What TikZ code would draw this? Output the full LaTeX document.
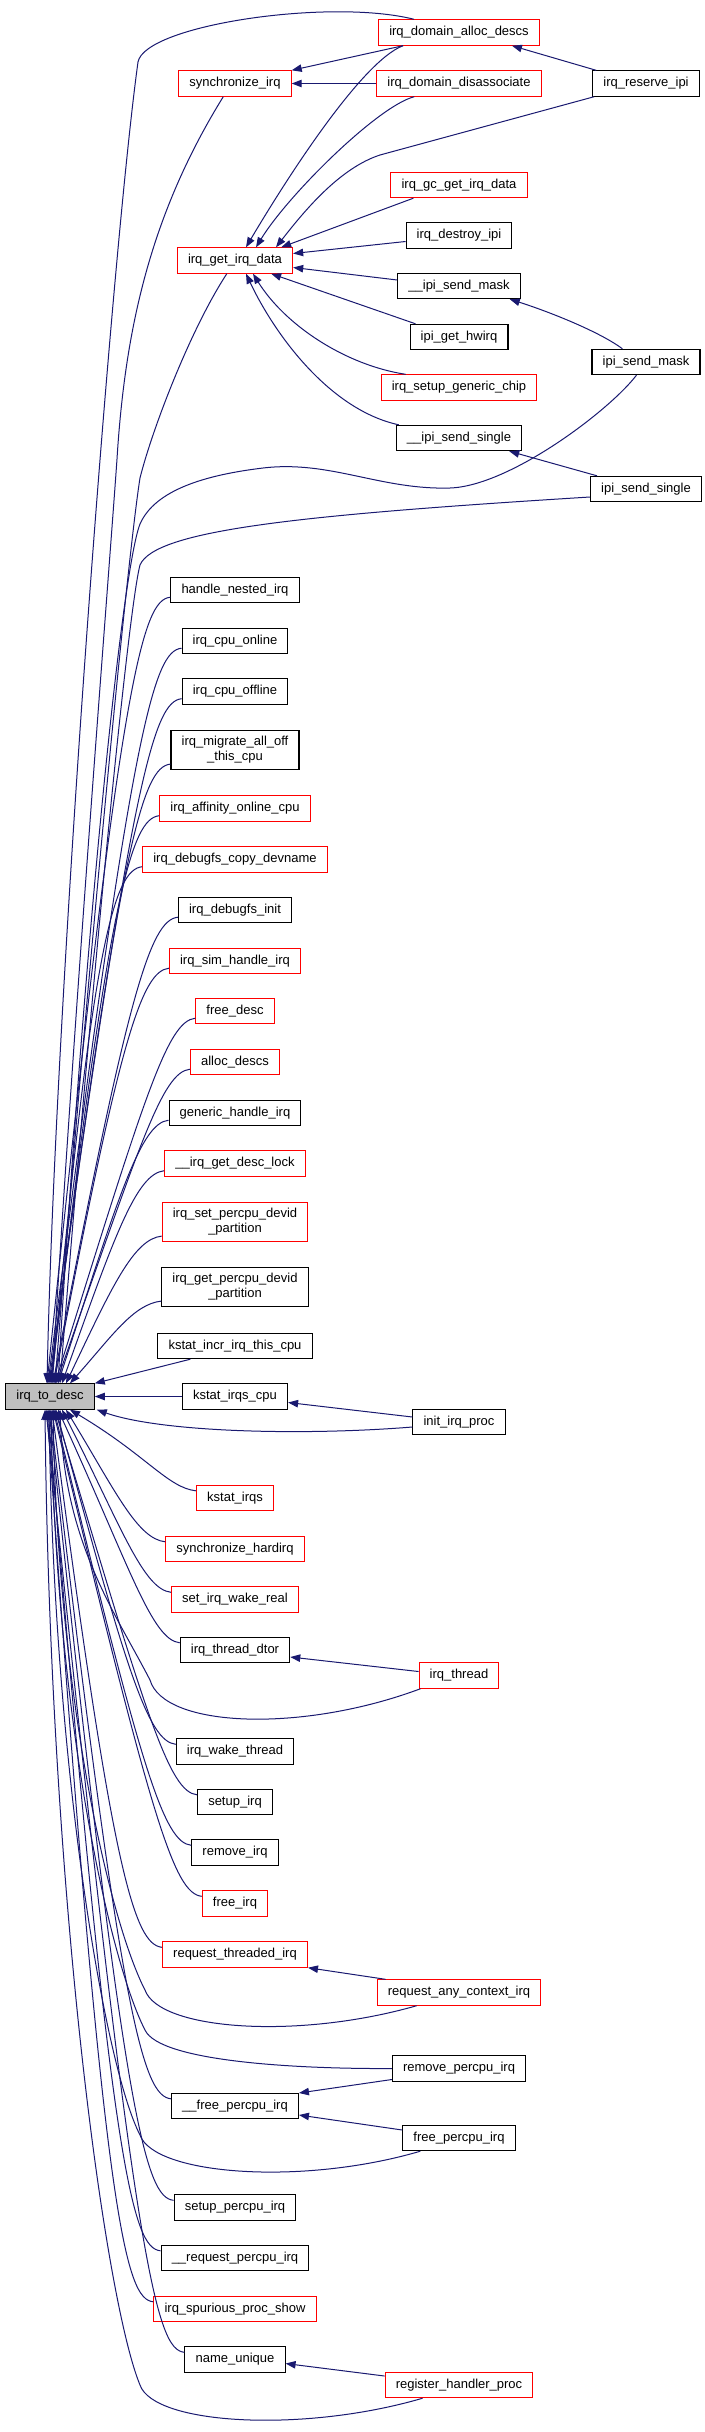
\documentclass[tikz,border=0pt]{standalone}
\usepackage{fontspec}
\setmainfont{Liberation Sans}
\usepackage{xcolor}
\usepackage{tikz}
\usetikzlibrary{arrows.meta, calc}
\definecolor{CallNavy}{RGB}{25, 25, 112}
\definecolor{BoxRed}{RGB}{255, 0, 0}
\definecolor{RootGray}{RGB}{191, 191, 191}

\tikzset{
  fn/.style={draw=black, line width=0.8pt, fill=white, align=center,
    font=\fontsize{9.75}{11.25}\selectfont, inner xsep=8pt, inner ysep=4.5pt,
    minimum height=19pt},
  fnred/.style={fn, draw=BoxRed},
  fnroot/.style={fn, fill=RootGray},
  call/.style={draw=CallNavy, line width=0.75pt, {Triangle[length=7.5pt,width=5.6pt]}-},
}

\begin{document}
\begin{tikzpicture}[x=0.75pt,y=-0.75pt]
  \path[use as bounding box] (0,0) rectangle (704,2432);
  \fill[white] (0,0) rectangle (704,2432);

  \node[fnred] (allocdescs) at (459,32.5) {irq\_domain\_alloc\_descs};
  \node[fnred] (syncirq) at (235,83.5) {synchronize\_irq};
  \node[fnred] (disassoc) at (459,83.5) {irq\_domain\_disassociate};
  \node[fn] (reserveipi) at (646,83.5) {irq\_reserve\_ipi};
  \node[fnred] (gcdata) at (459,185) {irq\_gc\_get\_irq\_data};
  \node[fn] (destroyipi) at (459,235.5) {irq\_destroy\_ipi};
  \node[fnred] (getdata) at (235,260.5) {irq\_get\_irq\_data};
  \node[fn] (sendmaskint) at (459,286) {\_\_ipi\_send\_mask};
  \node[fn] (hwirq) at (459,337) {ipi\_get\_hwirq};
  \node[fn] (sendmask) at (646,362) {ipi\_send\_mask};
  \node[fnred] (genchip) at (459,387.5) {irq\_setup\_generic\_chip};
  \node[fn] (sendsingleint) at (459,438) {\_\_ipi\_send\_single};
  \node[fn] (sendsingle) at (646,489) {ipi\_send\_single};

  \node[fn] (nested) at (235,590) {handle\_nested\_irq};
  \node[fn] (cpuonline) at (235,641) {irq\_cpu\_online};
  \node[fn] (cpuoffline) at (235,691.5) {irq\_cpu\_offline};
  \node[fn] (migrate) at (235,750) {irq\_migrate\_all\_off\\\_this\_cpu};
  \node[fnred] (affinity) at (235,808.5) {irq\_affinity\_online\_cpu};
  \node[fnred] (copydev) at (235,859.5) {irq\_debugfs\_copy\_devname};
  \node[fn] (dbginit) at (235,910) {irq\_debugfs\_init};
  \node[fnred] (simirq) at (235,961) {irq\_sim\_handle\_irq};
  \node[fnred] (freedesc) at (235,1011) {free\_desc};
  \node[fnred] (allocd) at (235,1062) {alloc\_descs};
  \node[fn] (generic) at (235,1113) {generic\_handle\_irq};
  \node[fnred] (desclock) at (235,1163.5) {\_\_irq\_get\_desc\_lock};
  \node[fnred] (setpart) at (235,1222) {irq\_set\_percpu\_devid\\\_partition};
  \node[fn] (getpart) at (235,1287) {irq\_get\_percpu\_devid\\\_partition};
  \node[fn] (kincr) at (235,1346) {kstat\_incr\_irq\_this\_cpu};
  \node[fnroot] (todesc) at (50,1396.5) {irq\_to\_desc};
  \node[fn] (kcpu) at (235,1396.5) {kstat\_irqs\_cpu};
  \node[fn] (initproc) at (459,1422) {init\_irq\_proc};
  \node[fnred] (kirqs) at (235,1498) {kstat\_irqs};
  \node[fnred] (hardirq) at (235,1549) {synchronize\_hardirq};
  \node[fnred] (wakereal) at (235,1599.5) {set\_irq\_wake\_real};
  \node[fn] (dtor) at (235,1650) {irq\_thread\_dtor};
  \node[fnred] (thread) at (459,1675.5) {irq\_thread};
  \node[fn] (wakethread) at (235,1751.5) {irq\_wake\_thread};
  \node[fn] (setupirq) at (235,1802) {setup\_irq};
  \node[fn] (removeirq) at (235,1852.5) {remove\_irq};
  \node[fnred] (freeirq) at (235,1903.5) {free\_irq};
  \node[fnred] (reqthreaded) at (235,1954.5) {request\_threaded\_irq};
  \node[fnred] (reqany) at (459,1992.5) {request\_any\_context\_irq};
  \node[fn] (removepcpu) at (459,2068.5) {remove\_percpu\_irq};
  \node[fn] (freepcpuint) at (235,2106) {\_\_free\_percpu\_irq};
  \node[fn] (freepcpu) at (459,2138) {free\_percpu\_irq};
  \node[fn] (setuppcpu) at (235,2207.5) {setup\_percpu\_irq};
  \node[fn] (reqpcpu) at (235,2258) {\_\_request\_percpu\_irq};
  \node[fnred] (spurious) at (235,2309) {irq\_spurious\_proc\_show};
  \node[fn] (nameuniq) at (235,2359.5) {name\_unique};
  \node[fnred] (reghandler) at (459,2385) {register\_handler\_proc};

  \draw[call] (syncirq.north east) -- ($(allocdescs.south west)+(25,0)$);
  \draw[call] (syncirq.east) -- (disassoc.west);
  \draw[call] ($(allocdescs.south east)+(-28,0)$) -- ($(reserveipi.north west)+(4,0)$);
  \draw[call] ($(getdata.north)+(11,0)$) .. controls (281,188) and (360,62) .. ($(allocdescs.south west)+(25,0)$);
  \draw[call] ($(getdata.north)+(21,0)$) .. controls (288,195) and (378,106) .. ($(disassoc.south west)+(38,0)$);
  \draw[call] ($(getdata.north)+(41,0)$) .. controls (305,210) and (340,168) .. (380,155) -- ($(reserveipi.south west)+(2,0)$);
  \draw[call] ($(getdata.north east)+(-12,0)$) -- ($(gcdata.south west)+(23,0)$);
  \draw[call] ($(getdata.east)+(0,-7)$) -- ($(destroyipi.west)+(0,6)$);
  \draw[call] ($(getdata.east)+(0,7)$) -- ($(sendmaskint.west)+(0,-6)$);
  \draw[call] ($(getdata.south east)+(-22,0)$) -- ($(hwirq.north west)+(6,0)$);
  \draw[call] ($(getdata.south)+(18,0)$) .. controls (285,325) and (345,365) .. ($(genchip.north west)+(25,0)$);
  \draw[call] ($(getdata.south)+(11,0)$) .. controls (275,335) and (330,410) .. ($(sendsingleint.north west)+(3,0)$);
  \draw[call] ($(sendmaskint.south east)+(-11,0)$) .. controls (550,312) and (600,332) .. ($(sendmask.north west)+(31,0)$);
  \draw[call] ($(sendsingleint.south east)+(-13,0)$) -- ($(sendsingle.north west)+(7,0)$);

  \draw[call] ($(todesc.north)+(-3,0)$) .. controls (55,1000) and (112,250) .. (138,62)
    .. controls (145,25) and (330,-2) .. ($(allocdescs.north west)+(36,0)$);
  \draw[call] ($(todesc.north)+(2,0)$) .. controls (75,1000) and (110,560) .. (117,459)
    .. controls (125,330) and (150,215) .. ($(syncirq.south west)+(45,0)$);
  \draw[call] ($(todesc.north)+(5,0)$) .. controls (85,1000) and (127,560) .. (140,478)
    .. controls (152,430) and (190,330) .. ($(getdata.south west)+(50,0)$);
  \draw[call] ($(todesc.north)+(8,0)$) .. controls (80,1000) and (120,575) .. (140,524)
    .. controls (155,490) and (205,475) .. (263,468)
    .. controls (330,460) and (380,490) .. (450,488)
    .. controls (510,486) and (610,410) .. ($(sendmask.south west)+(45,0)$);
  \draw[call] ($(todesc.north)+(10,0)$) .. controls (90,1000) and (128,610) .. (140,565)
    .. controls (155,530) and (300,515) .. ($(sendsingle.west)+(0,8)$);

  \foreach \n/\dx/\up in {nested/-3/70, cpuonline/-2/70, cpuoffline/-1/70, migrate/0/70,
      affinity/1/70, copydev/2/70, dbginit/3/70, simirq/4/70, freedesc/5/70, allocd/6/70,
      generic/8/70, desclock/12/60, setpart/16/45, getpart/20/30}
    \draw[call] ($(todesc.north)+(\dx,0)$) .. controls ($(\n.south west)+(-50,\up)$)
      and ($(\n.south west)+(-28,-3)$) .. ($(\n.south west)+(0,-6)$);
  \draw[call] (todesc.north east) -- ($(kincr.south west)+(33,0)$);

  \draw[call] (todesc.east) -- (kcpu.west);
  \draw[call] ($(kcpu.east)+(0,6)$) -- ($(initproc.west)+(0,-5)$);
  \draw[call] ($(todesc.south east)+(2,0)$) .. controls (160,1432) and (300,1436) .. ($(initproc.west)+(0,5)$);

  \foreach \n/\dx/\up in {kirqs/20/30, hardirq/16/45, wakereal/12/60, dtor/8/70,
      wakethread/6/70, setupirq/5/70, removeirq/4/70, freeirq/3/70, reqthreaded/2/70,
      freepcpuint/0/70, setuppcpu/-1/70, reqpcpu/-2/70, spurious/-3/70, nameuniq/-4/70}
    \draw[call] ($(todesc.south)+(\dx,0)$) .. controls ($(\n.north west)+(-50,-\up)$)
      and ($(\n.north west)+(-28,3)$) .. ($(\n.north west)+(0,6)$);

  \draw[call] ($(dtor.east)+(0,7)$) -- ($(thread.west)+(0,-4)$);
  \draw[call] ($(todesc.south)+(10,0)$) .. controls (65,1544) and (115,1612) .. (150,1680)
    .. controls (164,1728) and (302,1733) .. ($(thread.south west)+(2,0)$);
  \draw[call] (reqthreaded.south east) -- ($(reqany.north west)+(9,0)$);
  \draw[call] ($(todesc.south)+(3,0)$) .. controls (58,1700) and (110,1922) .. (145,1990)
    .. controls (159,2030) and (297,2040) .. ($(reqany.south west)+(40,0)$);
  \draw[call] ($(freepcpuint.east)+(0,-13)$) -- ($(removepcpu.west)+(0,11)$);
  \draw[call] ($(todesc.south)+(1,0)$) .. controls (56,1720) and (110,1962) .. (145,2030)
    .. controls (160,2062) and (300,2069) .. (removepcpu.west);
  \draw[call] ($(freepcpuint.east)+(0,9)$) -- ($(freepcpu.west)+(0,-8)$);
  \draw[call] ($(todesc.south)+(-1,0)$) .. controls (54,1772) and (105,2067) .. (140,2135)
    .. controls (154,2175) and (302,2186) .. ($(freepcpu.south west)+(18,0)$);
  \draw[call] ($(nameuniq.east)+(0,4)$) -- ($(reghandler.west)+(0,-9)$);
  \draw[call] ($(todesc.south)+(-5,0)$) .. controls (50,1897) and (105,2300) .. (140,2385)
    .. controls (154,2425) and (304,2433) .. ($(reghandler.south west)+(38,0)$);
\end{tikzpicture}
\end{document}
